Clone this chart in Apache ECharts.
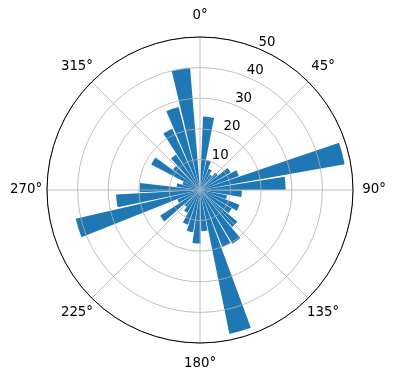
<!DOCTYPE html>
<html><head><meta charset="utf-8">
<script src="https://cdn.jsdelivr.net/npm/echarts@6/dist/echarts.min.js"></script>
<style>html,body{margin:0;padding:0;background:#fff}#c{width:396px;height:380px}</style>
</head><body><div id="c"></div>
<script>
// bin centre angles (degrees, clockwise from north)
const binAngles = [6.7,16.5,26.4,36.2,46.0,55.9,65.7,75.6,85.4,95.2,105.1,114.9,124.7,134.6,144.4,154.3,164.1,173.9,183.8,193.6,203.4,213.3,223.1,232.9,242.8,252.6,262.5,272.3,282.1,292.0,301.8,311.6,321.5,331.3,341.2,351.0];
// bar lengths (radius)
const counts = [24,10,7.5,6,7.5,11.5,13.5,48,28,13.7,9,13.8,12,16,20.5,20,48,13.5,17.5,14,12,8.5,7,15.5,8,41.7,27.5,19.7,7.7,6,18,11,14,22,28,40];
const angleTicks = [0,45,90,135,180,225,270,315];
const radiusTicks = [10,20,30,40,50];
const barWidthDeg = 8.7;
const R_MAX = 50;
const ANGLE_LABEL_R = R_MAX * 174 / 153; // label centres just outside the rim
const FONT = 'DejaVu Sans';

const chart = echarts.init(document.getElementById('c'), null, {renderer:'canvas'});

function renderBar(params, api) {
  const r = api.value(0), a = api.value(1);
  const cs = params.coordSys;
  const cx = cs.cx, cy = cs.cy;
  const p = api.coord([r, a]);
  const p1 = api.coord([r, a - barWidthDeg / 2]);
  const p2 = api.coord([r, a + barWidthDeg / 2]);
  const rad = Math.hypot(p[0] - cx, p[1] - cy);
  let s = Math.atan2(p1[1] - cy, p1[0] - cx);
  let e = Math.atan2(p2[1] - cy, p2[0] - cx);
  if (e < s) e += 2 * Math.PI;
  return {
    type: 'sector',
    shape: {cx: cx, cy: cy, r0: 0, r: rad, startAngle: s, endAngle: e, clockwise: true},
    style: {fill: '#1f77b4'}
  };
}

function renderAngleLabel(params, api) {
  const a = api.value(1);
  const p = api.coord([ANGLE_LABEL_R, a]);
  return {
    type: 'text', x: p[0], y: p[1],
    style: {text: a + '°', align: 'center', verticalAlign: 'middle',
            fill: '#000', fontSize: 13.33, fontFamily: FONT}
  };
}

chart.setOption({
  animation: false,
  backgroundColor: '#fff',
  polar: [
    {center: [200, 190], radius: 153},
    {center: [200, 190], radius: 153}
  ],
  angleAxis: [
    {
      polarIndex: 0, type: 'value', min: 0, max: 360, interval: 45,
      startAngle: 90, clockwise: true, z: 5,
      axisLine: {show: true, lineStyle: {color: '#000', width: 1}},
      axisTick: {show: false},
      splitLine: {show: true, lineStyle: {color: '#b0b0b0', width: 0.8}},
      axisLabel: {show: false}
    },
    {
      polarIndex: 1, type: 'value', min: 0, max: 360, startAngle: 67.5, clockwise: true,
      axisLine: {show: false}, axisTick: {show: false}, splitLine: {show: false},
      axisLabel: {show: false}
    }
  ],
  radiusAxis: [
    {
      polarIndex: 0, type: 'value', min: 0, max: R_MAX, interval: 10, z: 5,
      axisLine: {show: false}, axisTick: {show: false}, axisLabel: {show: false},
      splitLine: {show: true, lineStyle: {color: '#b0b0b0', width: 0.8}}
    },
    {
      polarIndex: 1, type: 'value', min: 0, max: R_MAX, interval: 10, z: 6,
      axisLine: {show: false}, axisTick: {show: false}, splitLine: {show: false},
      axisLabel: {
        margin: 0, align: 'left', verticalAlign: 'bottom',
        color: '#000', fontSize: 13.33, fontFamily: FONT,
        formatter: function (v) { return radiusTicks.indexOf(v) >= 0 ? String(v) : ''; }
      }
    }
  ],
  series: [{
    type: 'custom',
    coordinateSystem: 'polar',
    polarIndex: 0,
    z: 2,
    renderItem: renderBar,
    data: counts.map(function (v, i) { return [v, binAngles[i]]; })
  }, {
    type: 'custom',
    coordinateSystem: 'polar',
    polarIndex: 0,
    z: 6,
    clip: false,
    silent: true,
    renderItem: renderAngleLabel,
    data: angleTicks.map(function (a) { return [R_MAX, a]; })
  }]
});
</script>
</body></html>
